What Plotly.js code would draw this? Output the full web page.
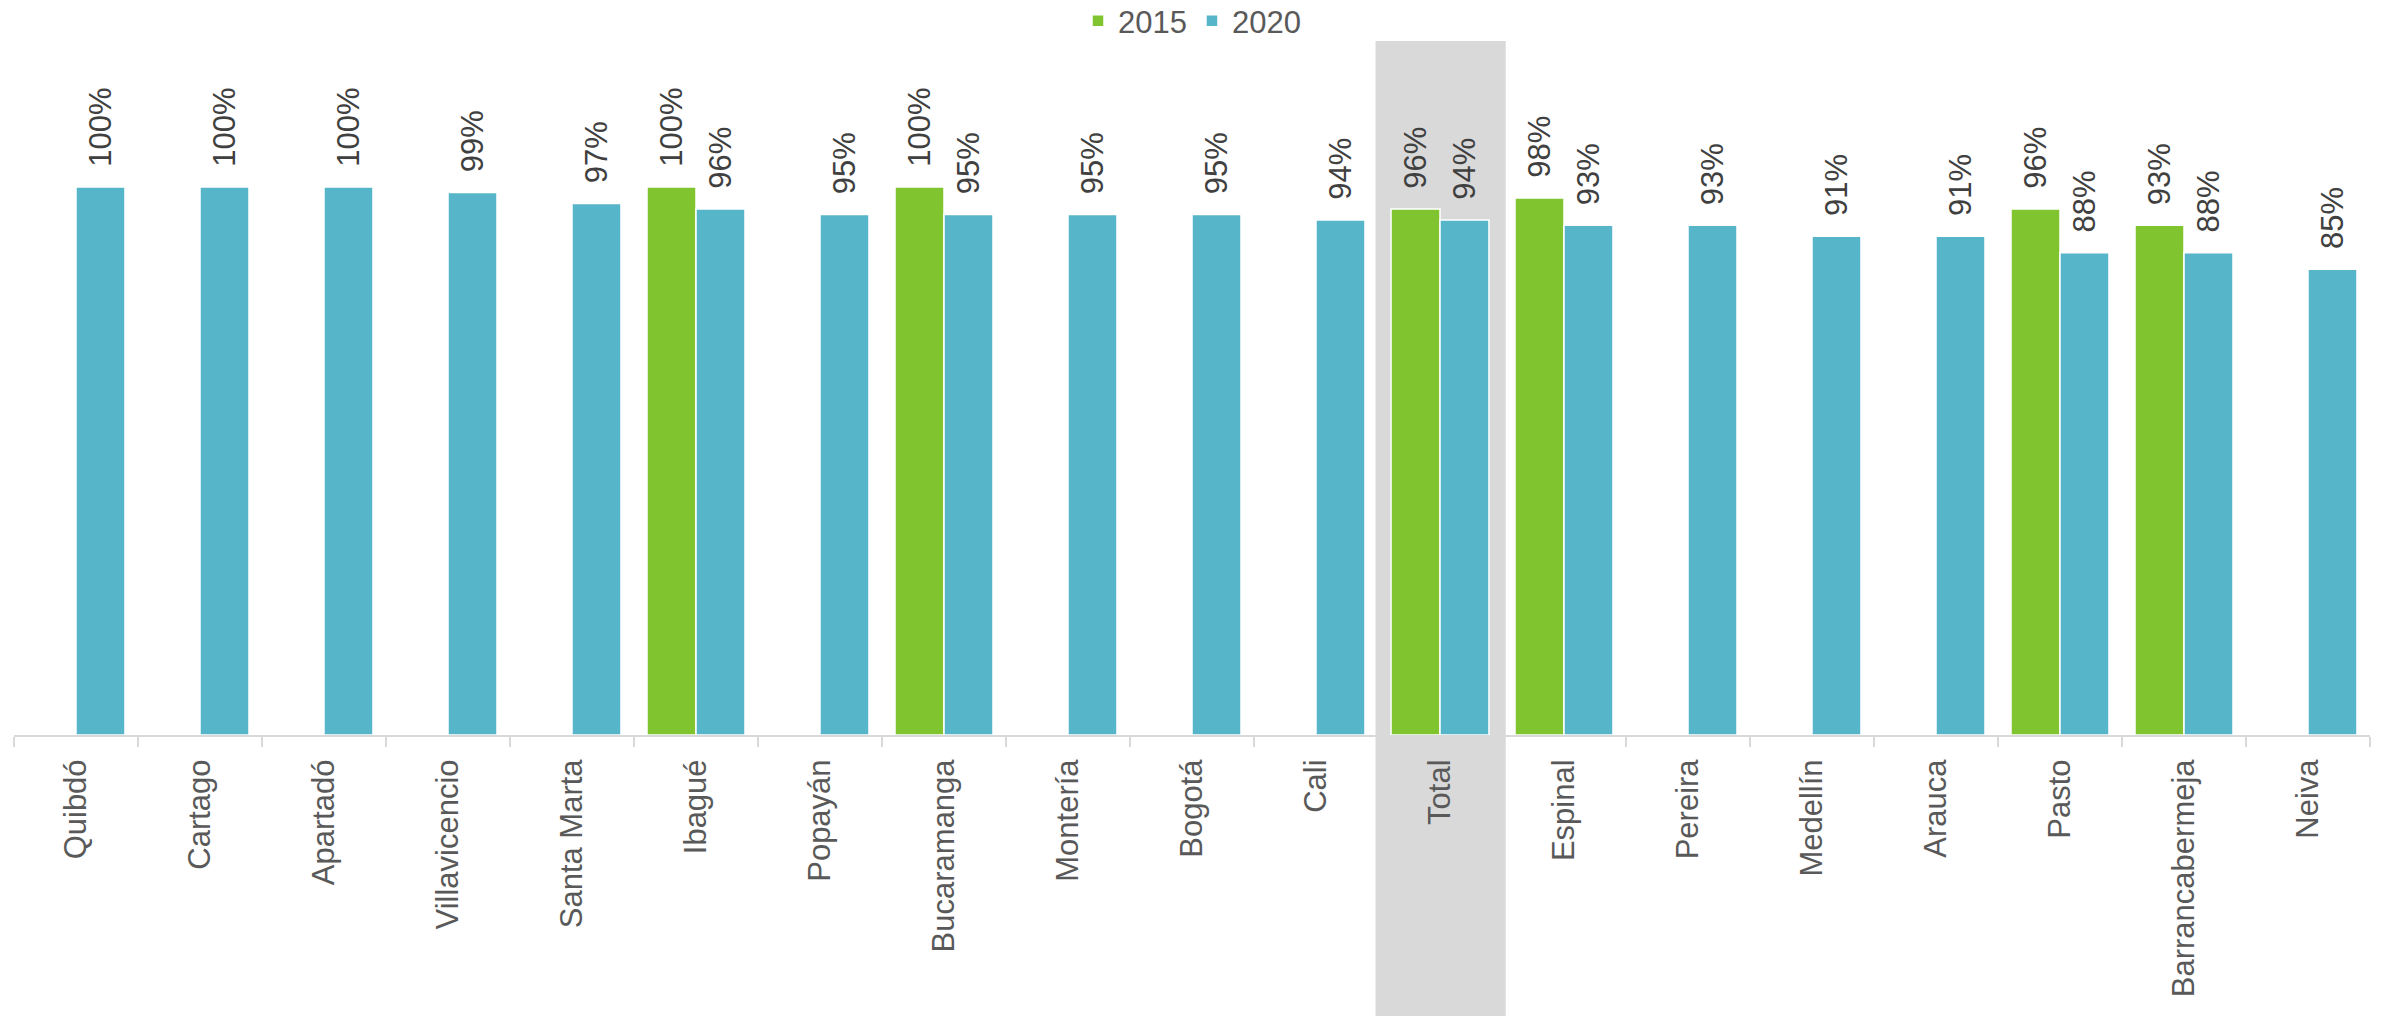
<!DOCTYPE html>
<html>
<head>
<meta charset="utf-8">
<script src="https://cdn.plot.ly/plotly-3.0.1.min.js"></script>
<style>html,body{margin:0;padding:0;background:#fff;}#chart{width:2389px;height:1016px;}</style>
</head>
<body>
<div id="chart"></div>
<script>
// ---- data ----
var categories = ["Quibdó","Cartago","Apartadó","Villavicencio","Santa Marta","Ibagué","Popayán","Bucaramanga","Montería","Bogotá","Cali","Total","Espinal","Pereira","Medellín","Arauca","Pasto","Barrancabermeja","Neiva"];
var values2015 = [null,null,null,null,null,1.00,null,1.00,null,null,null,0.96,0.98,null,null,null,0.96,0.93,null];
var values2020 = [1.00,1.00,1.00,0.99,0.97,0.96,0.95,0.95,0.95,0.95,0.94,0.94,0.93,0.93,0.91,0.91,0.88,0.88,0.85];
var seriesNames = ["2015","2020"];
var highlightCategory = "Total";

// ---- styles ----
var W = 2389, H = 1016;
var M = {l: 14, r: 19, t: 41, b: 281};
var plotH = H - M.t - M.b;
var green = "#80C530", blue = "#57B5C9";
var labelFont = {family: "Liberation Sans, Arial, sans-serif", size: 31, color: "#404040"};

function barTrace(name, vals, color) {
  return {
    type: "bar", name: name, x: categories, y: vals,
    marker: {color: color, line: {color: "#ffffff", width: 1.5}},
    texttemplate: "\u00a0\u00a0%{y:.0%}", textposition: "outside", textangle: -90,
    textfont: labelFont, constraintext: "none", cliponaxis: false,
    hoverinfo: "skip"
  };
}

var data = [
  barTrace(seriesNames[0], values2015, green),
  barTrace(seriesNames[1], values2020, blue)
];

var hi = categories.indexOf(highlightCategory);
var layout = {
  width: W, height: H,
  margin: {l: M.l, r: M.r, t: M.t, b: M.b, autoexpand: false},
  paper_bgcolor: "#ffffff", plot_bgcolor: "rgba(0,0,0,0)",
  barmode: "group", bargap: 0.21, bargroupgap: 0,
  font: {family: "Liberation Sans, Arial, sans-serif", color: "#595959"},
  showlegend: true,
  legend: {orientation: "h", x: 0.5, xanchor: "center", y: 1 + 20 / plotH, yanchor: "middle",
           bgcolor: "rgba(0,0,0,0)", font: {size: 31, color: "#595959"}, traceorder: "normal"},
  xaxis: {
    type: "category", tickangle: -90, tickson: "boundaries", ticks: "outside", ticklen: 10,
    tickcolor: "#d9d9d9", tickwidth: 2, showline: true, linecolor: "#d9d9d9", linewidth: 2,
    showgrid: false, zeroline: false, ticklabelstandoff: 10,
    tickfont: {size: 31, color: "#595959"}, fixedrange: true
  },
  yaxis: {range: [0, plotH / 548], visible: false, showgrid: false, zeroline: false, fixedrange: true},
  shapes: [{
    type: "rect", layer: "below", xref: "x", yref: "paper",
    x0: hi - 0.52, x1: hi + 0.53, y0: -M.b / plotH, y1: 1,
    fillcolor: "#d9d9d9", line: {width: 0}
  }]
};

Plotly.newPlot("chart", data, layout, {staticPlot: true, displayModeBar: false});
</script>
</body>
</html>
